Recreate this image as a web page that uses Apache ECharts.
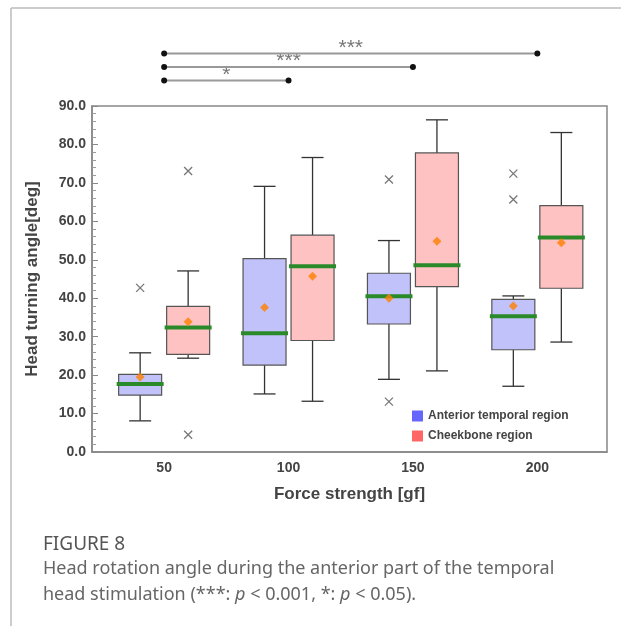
<!DOCTYPE html>
<html>
<head>
<meta charset="utf-8">
<style>
html, body { margin: 0; padding: 0; background: #fff; }
#chart { width: 621px; height: 626px; }
</style>
<script src="https://cdn.jsdelivr.net/npm/echarts@6/dist/echarts.min.js"></script>
</head>
<body>
<div id="chart"></div>
<script>
// force levels (x positions)
var forces = [50, 100, 150, 200];
// box stats: [low whisker, Q1, median, Q3, high whisker]
var anteriorBox = [
	[8.1, 14.8, 17.7, 20.2, 25.8],
	[15.1, 22.6, 30.9, 50.3, 69.1],
	[18.9, 33.3, 40.5, 46.5, 55.0],
	[17.1, 26.6, 35.3, 39.7, 40.6]
];
var cheekBox = [
	[24.4, 25.4, 32.4, 37.9, 47.1],
	[13.2, 29.0, 48.3, 56.4, 76.6],
	[21.1, 43.0, 48.6, 77.8, 86.4],
	[28.6, 42.6, 55.8, 64.1, 83.1]
];
var anteriorMean = [19.5, 37.6, 40.0, 38.0];
var cheekMean = [33.9, 45.7, 54.8, 54.4];
var anteriorOutliers = [[50, 42.7], [150, 70.9], [150, 13.1], [200, 72.4], [200, 65.7]];
var cheekOutliers = [[50, 73.1], [50, 4.5]];
// significance: [from, to, mark, level]
var sigPairs = [[50, 200, '***', 3], [50, 150, '***', 2], [50, 100, '*', 1]];
var yTicks = [0, 90, 10];

var FONT = '"Liberation Sans", Arial, sans-serif';
var CAP_FONT = '"Noto Sans", "Open Sans", sans-serif';
var OFF = 24; // px offset of each box from the group centre

function boxRender(offset, fill) {
	return function (params, api) {
		var x = api.value(0);
		var lo = api.coord([x, api.value(1)]), q1 = api.coord([x, api.value(2)]),
			md = api.coord([x, api.value(3)]), q3 = api.coord([x, api.value(4)]),
			hi = api.coord([x, api.value(5)]);
		var cx = lo[0] + offset, hw = 21.5, cw = 11;
		var ln = { stroke: '#333', lineWidth: 1.3 };
		return {
			type: 'group',
			children: [
				{ type: 'line', shape: { x1: cx, y1: hi[1], x2: cx, y2: q3[1] }, style: ln },
				{ type: 'line', shape: { x1: cx, y1: q1[1], x2: cx, y2: lo[1] }, style: ln },
				{ type: 'line', shape: { x1: cx - cw, y1: hi[1], x2: cx + cw, y2: hi[1] }, style: ln },
				{ type: 'line', shape: { x1: cx - cw, y1: lo[1], x2: cx + cw, y2: lo[1] }, style: ln },
				{ type: 'rect', shape: { x: cx - hw, y: q3[1], width: hw * 2, height: q1[1] - q3[1] },
					style: { fill: fill, stroke: '#555', lineWidth: 1.2 } },
				{ type: 'line', shape: { x1: cx - hw - 2, y1: md[1], x2: cx + hw + 2, y2: md[1] },
					style: { stroke: '#2a8a2a', lineWidth: 4 } }
			]
		};
	};
}

function withX(arr) {
	return forces.map(function (f, i) { return [f].concat(arr[i]); });
}
function meanData(arr) {
	return forces.map(function (f, i) { return [f, arr[i]]; });
}

var xMark = 'path://M0,0L10,10M10,0L0,10';

var series = [
	{
		name: 'Anterior temporal region', type: 'custom',
		renderItem: boxRender(-OFF, '#c2c2fb'),
		encode: { x: 0, y: [1, 2, 3, 4, 5] },
		itemStyle: { color: '#6666ff' },
		data: withX(anteriorBox), z: 2
	},
	{
		name: 'Cheekbone region', type: 'custom',
		renderItem: boxRender(OFF, '#ffc2c2'),
		encode: { x: 0, y: [1, 2, 3, 4, 5] },
		itemStyle: { color: '#ff6666' },
		data: withX(cheekBox), z: 2
	},
	{
		name: 'a-mean', type: 'scatter', symbol: 'diamond', symbolSize: 9,
		symbolOffset: [-OFF, 0], itemStyle: { color: '#ff8000' },
		data: meanData(anteriorMean), z: 5
	},
	{
		name: 'c-mean', type: 'scatter', symbol: 'diamond', symbolSize: 9,
		symbolOffset: [OFF, 0], itemStyle: { color: '#ff8000' },
		data: meanData(cheekMean), z: 5
	},
	{
		name: 'a-out', type: 'scatter', symbol: xMark, symbolSize: 8,
		symbolOffset: [-OFF, 0],
		itemStyle: { color: 'transparent', borderColor: '#555', borderWidth: 1.3 },
		data: anteriorOutliers, z: 5
	},
	{
		name: 'c-out', type: 'scatter', symbol: xMark, symbolSize: 8,
		symbolOffset: [OFF, 0],
		itemStyle: { color: 'transparent', borderColor: '#555', borderWidth: 1.3 },
		data: cheekOutliers, z: 5
	}
];

// significance bars in the upper strip
sigPairs.forEach(function (p, i) {
	series.push({
		name: 'sig' + i, type: 'line', xAxisIndex: 1, yAxisIndex: 1,
		symbol: 'circle', symbolSize: 6, showSymbol: true,
		itemStyle: { color: '#111' },
		lineStyle: { color: '#999', width: 2 },
		data: [[p[0], p[3]], [p[1], p[3]]],
		silent: true
	});
});
series.push({
	name: 'sigText', type: 'scatter', xAxisIndex: 1, yAxisIndex: 1,
	symbolSize: 0,
	label: {
		show: true, position: 'top', distance: -5, formatter: '{b}',
		fontSize: 21, color: '#555', fontFamily: FONT
	},
	data: sigPairs.map(function (p) {
		return { name: p[2], value: [(p[0] + p[1]) / 2, p[3]] };
	})
});

var chart = echarts.init(document.getElementById('chart'));
chart.setOption({
	animation: false,
	grid: [
		{ left: 92, right: 14, top: 106, bottom: 174, show: true,
			borderColor: '#888', borderWidth: 1.5, backgroundColor: 'transparent' },
		{ left: 92, right: 14, top: 40, height: 54 }
	],
	legend: {
		orient: 'vertical', left: 407, top: 405,
		itemWidth: 11, itemHeight: 11, itemGap: 8,
		textStyle: { fontSize: 12, fontWeight: 'bold', color: '#444', fontFamily: FONT },
		data: [
			{ name: 'Anterior temporal region', icon: 'rect', itemStyle: { color: '#6666ff' } },
			{ name: 'Cheekbone region', icon: 'rect', itemStyle: { color: '#ff6666' } }
		]
	},
	xAxis: [
		{
			type: 'value', min: 21, max: 228, gridIndex: 0,
			name: 'Force strength [gf]', nameLocation: 'middle', nameGap: 34,
			nameTextStyle: { fontSize: 17, fontWeight: 'bold', color: '#444', fontFamily: FONT },
			axisLine: { show: true, lineStyle: { color: '#888', width: 1.5 } },
			axisTick: { show: false },
			splitLine: { show: false },
			axisLabel: {
				customValues: forces, margin: 9,
				fontSize: 14, fontWeight: 'bold', color: '#444', fontFamily: FONT
			}
		},
		{ type: 'value', min: 21, max: 228, gridIndex: 1, show: false }
	],
	yAxis: [
		{
			type: 'value', min: yTicks[0], max: yTicks[1], interval: yTicks[2], gridIndex: 0,
			name: 'Head turning angle[deg]', nameLocation: 'middle', nameGap: 51,
			nameTextStyle: { fontSize: 17, fontWeight: 'bold', color: '#444', fontFamily: FONT },
			axisLine: { show: true, lineStyle: { color: '#888', width: 1.5 } },
			axisTick: { show: true, inside: true, length: 6, lineStyle: { color: '#888' } },
			minorTick: { show: true, splitNumber: 5, length: 4, lineStyle: { color: '#999' } },
			splitLine: { show: false },
			axisLabel: {
				margin: 6, fontSize: 14, fontWeight: 'bold', color: '#444', fontFamily: FONT,
				formatter: function (v) { return v.toFixed(1); }
			}
		},
		{ type: 'value', min: 0, max: 4, gridIndex: 1, show: false }
	],
	graphic: [
		{ type: 'line', shape: { x1: 11, y1: 8, x2: 621, y2: 8 },
			style: { stroke: '#bbb', lineWidth: 1.5 } },
		{ type: 'line', shape: { x1: 11, y1: 8, x2: 11, y2: 626 },
			style: { stroke: '#bbb', lineWidth: 1.5 } },
		{ type: 'text', left: 43, top: 535,
			style: { text: 'FIGURE 8', font: '19px ' + CAP_FONT, fill: '#555' } },
		{ type: 'text', left: 43, top: 560,
			style: {
				text: '{n|Head rotation angle during the anterior part of the temporal}\n' +
					'{n|head stimulation (***: }{i|p}{n| < 0.001, *: }{i|p}{n| < 0.05).}',
				rich: {
					n: { fontSize: 18, fontFamily: CAP_FONT, fill: '#666', lineHeight: 26 },
					i: { fontSize: 18, fontFamily: CAP_FONT, fontStyle: 'italic', fill: '#666', lineHeight: 26 }
				}
			}
		}
	],
	series: series
});
</script>
</body>
</html>
